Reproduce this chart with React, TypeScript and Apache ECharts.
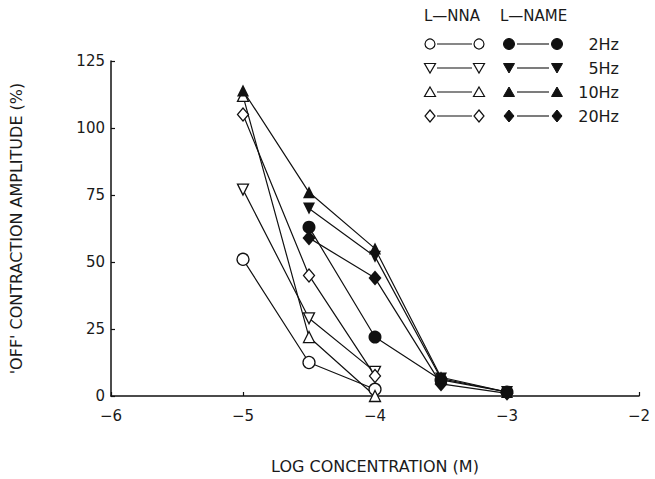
import React, { useEffect, useRef } from "react";
import * as echarts from "echarts";

// x: log concentration (M)
const nnaX2 = [-5, -4.5, -4];
const nna2Hz = [51, 12.5, 2.5];
const nna5Hz = [77, 29, 9];
const nna10Hz = [112, 22, 0];
const nna20Hz = [105, 45, 7.5];

const nameX10 = [-5, -4.5, -4, -3.5, -3];
const nameX = [-4.5, -4, -3.5, -3];
const name2Hz = [63, 22, 6, 1.5];
const name5Hz = [70, 52, 6.5, 1.5];
const name10Hz = [114, 76, 55, 7, 1.5];
const name20Hz = [59, 44, 4.5, 1];

const freqLabels = ["2Hz", "5Hz", "10Hz", "20Hz"];

const FONT = "'DejaVu Sans', 'Liberation Sans', Arial, sans-serif";
const INK = "#111";
const TXT = "#1a1a1a";

function pairs(xs: number[], ys: number[]) {
  return xs.map((x, i) => [x, ys[i]]);
}

type Shape = "circle" | "up" | "down" | "diamond";

function mkSeries(name: string, xs: number[], ys: number[], shape: Shape, filled: boolean, z: number) {
  const symbol = shape === "circle" ? "circle" : shape === "diamond" ? "diamond" : "triangle";
  let size: any;
  if (shape === "circle") size = filled ? 13 : 12;
  else if (shape === "diamond") size = filled ? [13, 15] : [11, 13];
  else size = filled ? 12 : 11;
  return {
    name,
    type: "line",
    data: pairs(xs, ys),
    symbol,
    symbolSize: size,
    symbolRotate: shape === "down" ? 180 : 0,
    showSymbol: true,
    z,
    lineStyle: { color: INK, width: 1.2 },
    itemStyle: {
      color: filled ? INK : "#fff",
      borderColor: INK,
      borderWidth: filled ? 0 : 1.3,
    },
    emphasis: { disabled: true },
  };
}

function legendMarker(shape: Shape, filled: boolean, cx: number, cy: number) {
  const style = filled
    ? { fill: INK, stroke: INK, lineWidth: 1 }
    : { fill: "#fff", stroke: INK, lineWidth: 1.2 };
  if (shape === "circle") {
    return { type: "circle", shape: { cx, cy, r: filled ? 5.5 : 5 }, style };
  }
  let pts: number[][];
  if (shape === "up") pts = [[cx, cy - 5], [cx + 5.5, cy + 4.5], [cx - 5.5, cy + 4.5]];
  else if (shape === "down") pts = [[cx - 5.5, cy - 4.5], [cx + 5.5, cy - 4.5], [cx, cy + 5]];
  else pts = [[cx, cy - 6], [cx + 5, cy], [cx, cy + 6], [cx - 5, cy]];
  return { type: "polygon", shape: { points: pts }, style };
}

function buildLegend() {
  const els: any[] = [];
  els.push({ type: "text", x: 424, y: 16, style: { text: "L\u2014NNA", font: `15px ${FONT}`, fill: TXT, verticalAlign: "middle" } });
  els.push({ type: "text", x: 500, y: 16, style: { text: "L\u2014NAME", font: `15px ${FONT}`, fill: TXT, verticalAlign: "middle" } });
  const shapes: Shape[] = ["circle", "down", "up", "diamond"];
  shapes.forEach((s, i) => {
    const y = 44 + i * 24;
    els.push(legendMarker(s, false, 430, y));
    els.push({ type: "line", shape: { x1: 437, y1: y, x2: 472, y2: y }, style: { stroke: INK, lineWidth: 1.1 } });
    els.push(legendMarker(s, false, 479, y));
    els.push(legendMarker(s, true, 509, y));
    els.push({ type: "line", shape: { x1: 517, y1: y, x2: 549, y2: y }, style: { stroke: INK, lineWidth: 1.1 } });
    els.push(legendMarker(s, true, 557, y));
    els.push({
      type: "text",
      x: 619,
      y,
      style: { text: freqLabels[i], font: `16px ${FONT}`, fill: TXT, align: "right", verticalAlign: "middle" },
    });
  });
  return els;
}

export default function App() {
  const ref = useRef<HTMLDivElement>(null);
  useEffect(() => {
    if (!ref.current) return;
    const chart = echarts.init(ref.current, undefined, { renderer: "svg" });
    const axisLabelStyle = { color: TXT, fontSize: 15, fontFamily: FONT };
    chart.setOption({
      animation: false,
      backgroundColor: "#fff",
      grid: { left: 111, right: 16, top: 61, bottom: 83, containLabel: false },
      xAxis: {
        type: "value",
        min: -6,
        max: -2,
        interval: 1,
        name: "LOG CONCENTRATION (M)",
        nameLocation: "middle",
        nameGap: 62,
        nameTextStyle: { color: TXT, fontSize: 16, fontFamily: FONT },
        axisLine: { show: true, onZero: false, lineStyle: { color: INK, width: 1.5 } },
        axisTick: { show: true, inside: true, length: 4, lineStyle: { color: INK, width: 1.2 } },
        axisLabel: {
          ...axisLabelStyle,
          margin: 12,
          formatter: (v: number) => (v < 0 ? "\u2212" + Math.abs(v) : String(v)),
        },
        splitLine: { show: false },
      },
      yAxis: {
        type: "value",
        min: 0,
        max: 125,
        interval: 25,
        name: "'OFF' CONTRACTION AMPLITUDE (%)",
        nameLocation: "middle",
        nameGap: 87,
        nameTextStyle: { color: TXT, fontSize: 16, fontFamily: FONT },
        axisLine: { show: true, onZero: false, lineStyle: { color: INK, width: 1.5 } },
        axisTick: { show: true, inside: true, length: 4, lineStyle: { color: INK, width: 1.2 } },
        axisLabel: { ...axisLabelStyle, margin: 6 },
        splitLine: { show: false },
      },
      graphic: buildLegend(),
      series: [
        mkSeries("L-NNA 2Hz", nnaX2, nna2Hz, "circle", false, 2),
        mkSeries("L-NNA 5Hz", nnaX2, nna5Hz, "down", false, 2),
        mkSeries("L-NNA 10Hz", nnaX2, nna10Hz, "up", false, 2),
        mkSeries("L-NNA 20Hz", nnaX2, nna20Hz, "diamond", false, 2),
        mkSeries("L-NAME 2Hz", nameX, name2Hz, "circle", true, 3),
        mkSeries("L-NAME 5Hz", nameX, name5Hz, "down", true, 3),
        mkSeries("L-NAME 20Hz", nameX, name20Hz, "diamond", true, 3),
        mkSeries("L-NAME 10Hz", nameX10, name10Hz, "up", true, 4),
      ],
    });
    return () => chart.dispose();
  }, []);
  return <div ref={ref} style={{ width: 655, height: 479, position: "absolute", left: 0, top: 0, background: "#fff" }} />;
}
